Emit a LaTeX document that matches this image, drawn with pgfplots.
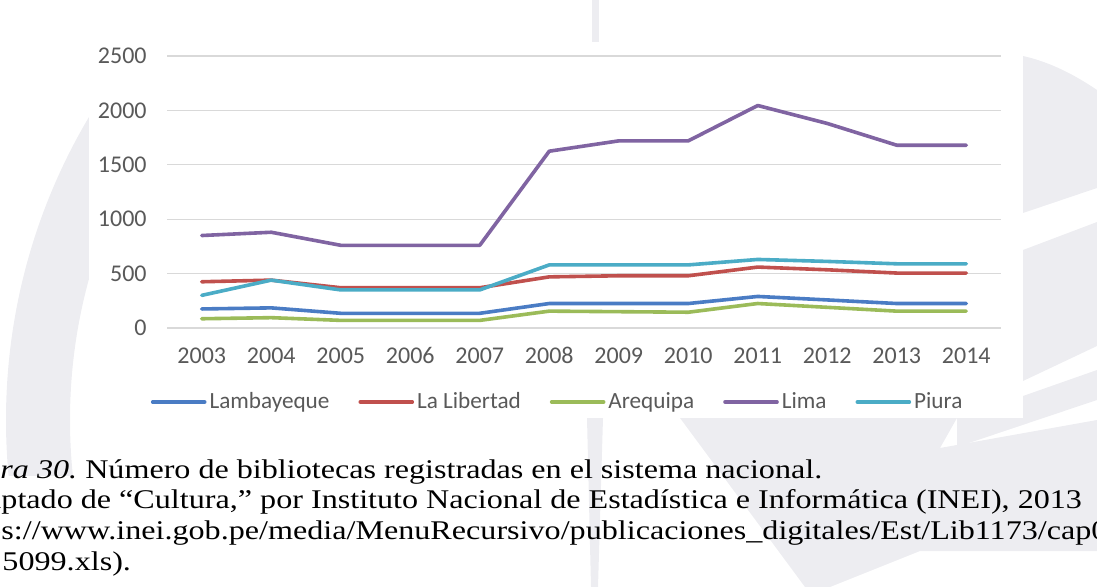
\documentclass[border=0pt]{standalone}
\usepackage{fontspec}
\setmainfont{Liberation Serif}
\newfontfamily\calibri{Carlito}
\usepackage{pgfplots}
\usepackage{pgfplotstable}
\pgfplotsset{compat=1.18}
\definecolor{cBlue}{HTML}{4A7CC4}
\definecolor{cRed}{HTML}{C0504D}
\definecolor{cGreen}{HTML}{9BBB59}
\definecolor{cPurple}{HTML}{8064A2}
\definecolor{cCyan}{HTML}{4BACC6}
\definecolor{tickgray}{HTML}{595959}
\definecolor{gridgray}{HTML}{D9D9D9}
\definecolor{wm}{RGB}{237,237,241}

\pgfplotstableread{
x Lam LaL Are Lim Piu
0 175 425 85 850 300
1 185 440 95 880 440
2 135 370 70 760 350
3 135 370 70 760 350
4 135 370 70 760 350
5 225 470 155 1625 580
6 225 480 150 1720 580
7 225 480 145 1720 580
8 290 560 225 2045 630
9 258 535 190 1880 612
10 225 505 155 1680 590
11 225 505 155 1680 590
}\data

\begin{document}
\frenchspacing
\begin{tikzpicture}
\useasboundingbox (0,0) rectangle (548.5pt,-293.5pt);
\clip (0,0) rectangle (548.5pt,-293.5pt);
\begin{scope}[x=0.5pt,y=-0.5pt]
  % watermark
  \begin{scope}
    \clip (0,0) rectangle (200,475);
    \fill[wm, even odd rule] (600,420) circle (594) (600,420) circle (530);
  \end{scope}
  \fill[wm] (1023,56) .. controls (1050,62) and (1075,75) .. (1097,90) -- (1097,188) -- (1023,213) -- cycle;
  \fill[wm] (1023,250) -- (1097,222) -- (1097,346) -- (1023,381) -- cycle;
  \fill[wm] (957,418) -- (1023,418) -- (1023,396) -- (1097,370) -- (1097,400) -- (957,447) -- cycle;
  \fill[wm] (680,418) -- (957,418) -- (940,448) -- (1097,420) -- (1097,551) -- (920,551) -- (830,587) -- (805,587) -- cycle;
  \fill[wm] (587,418) -- (603,418) -- (598,587) -- (591,587) -- cycle;
  % chart area
  \fill[white] (89,0) rectangle (1023,418);
  \fill[wm] (592,0) rectangle (599,42);
  % caption
  \begin{scope}[every node/.style={anchor=base west, inner sep=0pt, font=\fontsize{13.5}{15}\selectfont}]
    \node[transform shape, xscale=1.19] at (0,478) {\llap{\textit{Figu}}\textit{ra 30.} Número de bibliotecas registradas en el sistema nacional.};
    \node[transform shape, xscale=1.19] at (1,508.5) {\llap{Ada}ptado de “Cultura,” por Instituto Nacional de Estadística e Informática (INEI), 2013};
    \node[transform shape, xscale=1.19] at (1,539) {\llap{http}s://www.inei.gob.pe/media/MenuRecursivo/publicaciones\_digitales/Est/Lib1173/cap08/};
    \node[transform shape, xscale=1.19] at (2,570) {5099.xls).};
  \end{scope}
\end{scope}

\begin{axis}[
  at={(83.5pt,-164pt)}, anchor=south west,
  scale only axis, width=417pt, height=136pt,
  xmin=-0.5, xmax=11.5, ymin=0, ymax=2500,
  xtick={0,1,2,3,4,5,6,7,8,9,10,11},
  xticklabels={2003,2004,2005,2006,2007,2008,2009,2010,2011,2012,2013,2014},
  ytick={0,500,1000,1500,2000,2500},
  ymajorgrids, grid style={gridgray, line width=0.6pt},
  major tick length=0pt,
  axis line style={draw=none},
  tick label style={font=\calibri\fontsize{12}{14}\selectfont, text=tickgray},
  /pgf/number format/assume math mode=true,
  /pgf/number format/1000 sep={},
  scaled y ticks=false,
  yticklabel style={inner sep=0pt, xshift=-10pt},
  xticklabel style={inner sep=0pt, anchor=base, yshift=-17.5pt},
  every axis plot/.append style={line width=1.8pt, line join=round, line cap=round, mark=none},
  legend image code/.code={\draw[#1, line width=1.8pt, line cap=round] (0pt,0pt) -- (26pt,0pt);},
  legend style={at={(0.469,-0.272)}, anchor=center, draw=none, fill=none,
    legend columns=5, font=\calibri\fontsize{11.6}{13}\selectfont, text=tickgray,
    /tikz/every even column/.append style={column sep=13pt},
    nodes={inner sep=1.5pt}},
]
\addplot[cBlue] table[x=x,y=Lam]{\data};
\addlegendentry{Lambayeque}
\addplot[cRed] table[x=x,y=LaL]{\data};
\addlegendentry{La Libertad}
\addplot[cGreen] table[x=x,y=Are]{\data};
\addlegendentry{Arequipa}
\addplot[cPurple] table[x=x,y=Lim]{\data};
\addlegendentry{Lima}
\addplot[cCyan] table[x=x,y=Piu]{\data};
\addlegendentry{Piura}
\end{axis}
\end{tikzpicture}
\end{document}
